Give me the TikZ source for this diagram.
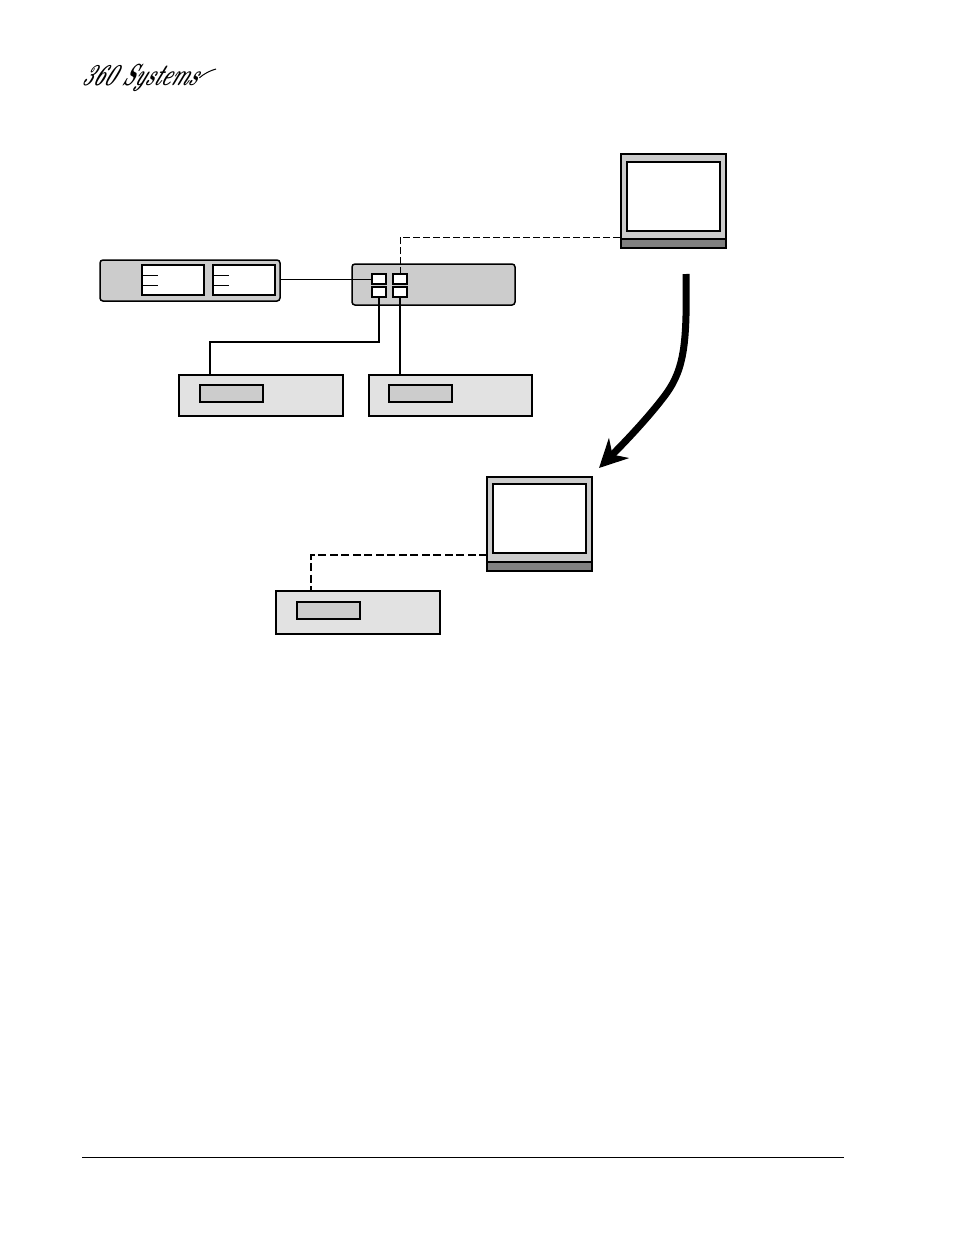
\documentclass[tikz,border=0pt]{standalone}
\usepackage{tikz}
\usetikzlibrary{arrows.meta,positioning,calc}
\definecolor{panelgrey}{HTML}{CCCCCC}
\definecolor{deckgrey}{HTML}{E2E2E2}
\definecolor{basegrey}{HTML}{808080}
\tikzset{
  box/.style={draw,line width=1.5pt,anchor=north west,inner sep=0pt,outer sep=0pt},
  panel/.style={box,rounded corners=3pt,fill=panelgrey,minimum height=41pt},
  deck/.style={box,fill=deckgrey,minimum width=164pt,minimum height=41pt},
  slot/.style={box,fill=panelgrey,minimum width=63pt,minimum height=17pt},
  window/.style={box,fill=white,minimum width=62pt,minimum height=30pt},
  port/.style={box,fill=white,minimum width=14pt,minimum height=10pt},
  case/.style={box,line width=2.7pt,fill=panelgrey,minimum width=105pt,minimum height=94pt},
  screen/.style={box,line width=2.7pt,fill=white,minimum width=93pt,minimum height=69pt},
  base/.style={box,line width=1.7pt,fill=basegrey,minimum width=105pt,minimum height=9pt},
  cable/.style={line width=1.7pt},
  link/.style={line width=1pt,dash pattern=on 7pt off 3pt}
}
\begin{document}
\begin{tikzpicture}[x=1pt,y=-1pt]
\useasboundingbox (0,0) rectangle (954,1235);
% logo
\node[anchor=west,inner sep=0pt,font=\bfseries\itshape\fontsize{21}{21}\selectfont,xslant=0.45,xscale=0.88,yscale=1.45] (logo) at (84,78) {360 Systems};
\coordinate (swoosh) at (216,69);
\draw[line width=1pt] (logo.east) .. controls (198,79) and (205,72) .. (swoosh);
% first monitor
\node[case] (mona) at (621,154) {};
\node[screen] (scra) at (627,162) {};
\node[base] (basea) at (621,239) {};
% rack unit with two windows
\node[panel,minimum width=180pt] (rack) at (100,260) {};
\node[window] (wina) at (142,265) {};
\node[window,line width=1.8pt] (winb) at (213,265) {};
\foreach \tx in {143,214}{
  \foreach \ty in {275,285}{
    \draw[line width=0.8pt] (\tx,\ty) -- ++(15,0);
  }
}
% router with ports
\node[panel,minimum width=163pt] (router) at (352,264) {};
\node[port] (porta) at (372,274) {};
\node[port] (portb) at (393,274) {};
\node[port] (portc) at (372,287) {};
\node[port] (portd) at (393,287) {};
% decks
\node[deck] (decka) at (179,375) {};
\node[slot] (slota) at (200,385) {};
\node[deck,minimum width=163pt] (deckb) at (369,375) {};
\node[slot] (slotb) at (389,385) {};
% second monitor
\node[case] (monb) at (487,477) {};
\node[screen] (scrb) at (493,484) {};
\node[base] (baseb) at (487,562) {};
% third deck
\node[deck,line width=2.5pt,minimum height=43pt] (deckc) at (276,591) {};
\node[slot,line width=1.8pt] (slotc) at (297,602) {};
% connectors
\coordinate (bend) at (379,342);
\coordinate (inleft) at (210,375);
\coordinate (inmona) at (621,237);
\coordinate (inmonb) at (487,555);
\coordinate (indeckc) at (311,591);
\draw[line width=1pt] (rack.east |- porta.west) -- (porta.west);
\draw[cable] (portc.south) -- (bend) -| (inleft);
\draw[cable] (portd.south) -- (deckb.north -| portd.south);
\draw[link] (portb.north) |- (inmona);
\draw[link,line width=1.2pt,dash pattern=on 8pt off 3.5pt] (inmonb) -| (indeckc);
% big arrow
\coordinate (movea) at (686,274);
\coordinate (moveb) at (599,468);
\draw[line width=7pt,-{Stealth[length=28pt,width=28pt,inset=9pt]}] (movea) .. controls (687,340) and (685,368) .. (666,394) .. controls (652,413) and (630,437) .. (moveb);
% footer rule
\coordinate (rulea) at (82,1157.8);
\coordinate (ruleb) at (844,1157.8);
\draw[line width=1pt] (rulea) -- (ruleb);
\end{tikzpicture}
\end{document}
